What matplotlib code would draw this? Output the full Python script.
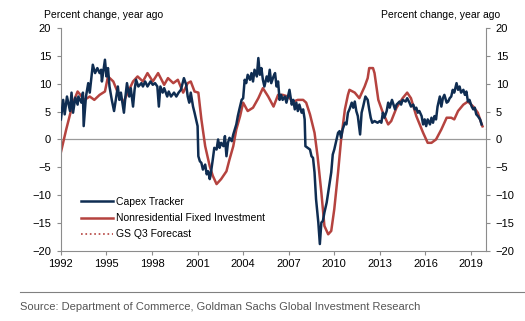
import numpy as np
import matplotlib
matplotlib.use('Agg')
import matplotlib.pyplot as plt
from matplotlib.lines import Line2D

plt.rcParams['font.family'] = ['Liberation Sans', 'DejaVu Sans']

# Capex Tracker (monthly-ish)
capex_t = [1992.0, 1992.15, 1992.25, 1992.4, 1992.6, 1992.7, 1992.8, 1992.95, 1993.1, 1993.15,
           1993.35, 1993.45, 1993.5, 1993.65, 1993.8, 1993.9, 1994.1, 1994.25, 1994.4, 1994.55,
           1994.65, 1994.7, 1994.9, 1995.0, 1995.1, 1995.2, 1995.35, 1995.5, 1995.65, 1995.75,
           1995.85, 1995.95, 1996.15, 1996.25, 1996.35, 1996.5, 1996.6, 1996.75, 1996.85, 1996.95,
           1997.1, 1997.3, 1997.4, 1997.55, 1997.7, 1997.9, 1998.05, 1998.2, 1998.35, 1998.45,
           1998.55, 1998.7, 1998.8, 1999.0, 1999.1, 1999.25, 1999.45, 1999.6, 1999.75, 1999.9,
           2000.1, 2000.25, 2000.35, 2000.45, 2000.55, 2000.7, 2000.8, 2000.9, 2001.0, 2001.05,
           2001.15, 2001.25, 2001.35, 2001.5, 2001.6, 2001.7, 2001.8, 2001.85, 2002.0, 2002.1,
           2002.25, 2002.35, 2002.45, 2002.55, 2002.7, 2002.8, 2002.9, 2003.0, 2003.1, 2003.25,
           2003.35, 2003.45, 2003.55, 2003.65, 2003.75, 2003.9, 2004.0, 2004.1, 2004.2, 2004.3,
           2004.45, 2004.55, 2004.65, 2004.75, 2004.9, 2005.0, 2005.1, 2005.2, 2005.3, 2005.4,
           2005.55, 2005.65, 2005.75, 2005.85, 2006.0, 2006.1, 2006.2, 2006.3, 2006.4, 2006.5,
           2006.6, 2006.75, 2006.85, 2006.95, 2007.05, 2007.2, 2007.3, 2007.4, 2007.5, 2007.6,
           2007.7, 2007.85, 2007.95, 2008.05, 2008.1, 2008.25, 2008.4, 2008.5, 2008.6, 2008.7,
           2008.8, 2008.95, 2009.05, 2009.15, 2009.25, 2009.35, 2009.5, 2009.6, 2009.7, 2009.8,
           2009.9, 2010.0, 2010.15, 2010.25, 2010.35, 2010.45, 2010.55, 2010.7, 2010.8, 2010.9,
           2011.0, 2011.15, 2011.25, 2011.35, 2011.45, 2011.55, 2011.7, 2011.8, 2011.9, 2012.05,
           2012.2, 2012.3, 2012.4, 2012.5, 2012.65, 2012.85, 2013.0, 2013.1, 2013.2, 2013.3,
           2013.45, 2013.55, 2013.65, 2013.8, 2014.0, 2014.1, 2014.3, 2014.4, 2014.5, 2014.7,
           2014.8, 2014.95, 2015.05, 2015.2, 2015.3, 2015.4, 2015.5, 2015.6, 2015.75, 2015.85,
           2015.95, 2016.05, 2016.15, 2016.3, 2016.4, 2016.5, 2016.6, 2016.7, 2016.8, 2016.95,
           2017.05, 2017.15, 2017.25, 2017.4, 2017.5, 2017.6, 2017.7, 2017.8, 2017.9, 2018.05,
           2018.15, 2018.25, 2018.35, 2018.5, 2018.6, 2018.7, 2018.8, 2018.9, 2019.05, 2019.15,
           2019.25, 2019.35, 2019.45, 2019.6, 2019.7]
capex_v = [3.6, 7.1, 4.5, 7.7, 5.1, 8.4, 4.8, 7.5, 6.25, 7.7,
           6.6, 8.4, 2.4, 7.7, 10.1, 8.4, 13.4, 11.9, 12.8, 11.9,
           12.5, 10.4, 14.3, 11.3, 12.8, 9.5, 7.1, 5.1, 7.7, 9.5,
           7.1, 8.4, 4.8, 7.7, 10.1, 7.7, 9.2, 5.9, 8.9, 10.7,
           9.5, 10.1, 9.5, 10.4, 9.5, 10.4, 9.8, 10.1, 9.5, 5.9,
           9.5, 8.4, 9.2, 7.7, 8.6, 7.7, 8.4, 7.7, 8.4, 8.9,
           11.0, 9.8, 7.7, 6.6, 8.4, 5.9, 4.8, 3.6, 2.4, -3.0,
           -3.9, -4.2, -5.4, -4.5, -6.25, -5.7, -7.1, -6.5, -3.6, -1.5,
           -1.8, 0.0, -1.5, -0.6, -1.2, 0.6, -3.0, -0.6, 0.3, -0.3,
           0.9, 1.8, 2.7, 4.2, 5.4, 7.1, 7.4, 10.7, 10.1, 11.6,
           10.7, 11.9, 10.4, 12.5, 11.3, 14.6, 11.6, 12.8, 10.7, 9.5,
           11.3, 10.4, 12.5, 10.1, 11.3, 11.9, 9.5, 10.4, 7.1, 8.0,
           7.1, 7.7, 6.6, 7.7, 8.9, 6.25, 7.1, 5.4, 6.6, 5.1,
           6.25, 4.8, 5.4, 3.6, -1.2, -1.5, -1.8, -3.0, -3.3, -5.9,
           -10.7, -14.9, -18.75, -14.9, -14.6, -13.1, -11.3, -9.5, -7.7, -5.9,
           -2.7, -1.8, 0.0, 1.2, 1.5, 0.3, 1.8, 3.0, 2.7, 4.8,
           5.4, 6.6, 5.7, 6.8, 5.1, 4.2, 0.9, 4.8, 5.9, 7.7,
           7.1, 5.4, 3.9, 3.0, 3.3, 3.0, 3.3, 3.0, 4.8, 3.9,
           5.1, 6.6, 5.7, 7.1, 5.4, 6.25, 6.8, 6.25, 7.1, 6.8,
           7.4, 6.6, 5.9, 6.25, 5.4, 5.7, 4.8, 5.1, 4.2, 2.7,
           3.6, 2.4, 3.6, 2.7, 3.9, 3.0, 4.2, 3.6, 5.9, 7.7,
           5.9, 7.4, 8.0, 6.6, 6.8, 7.4, 7.7, 8.9, 8.4, 10.1,
           8.9, 9.5, 8.4, 8.9, 8.0, 8.6, 6.8, 7.1, 5.9, 5.4,
           5.7, 4.5, 4.2, 3.6, 2.7]

# Nonresidential fixed investment (quarterly)
nfi_t = [1992.0, 1992.35, 1992.8, 1993.1, 1993.55, 1993.9, 1994.2, 1994.55, 1994.9, 1995.1,
         1995.45, 1995.75, 1996.1, 1996.4, 1996.75, 1997.05, 1997.4, 1997.7, 1998.05, 1998.4,
         1998.8, 1999.05, 1999.4, 1999.7, 2000.05, 2000.35, 2000.55, 2000.8, 2001.05, 2001.25,
         2001.5, 2001.8, 2002.0, 2002.25, 2002.55, 2002.9, 2003.1, 2003.35, 2003.55, 2003.8,
         2004.0, 2004.3, 2004.65, 2005.0, 2005.3, 2005.65, 2006.0, 2006.3, 2006.6, 2006.95,
         2007.3, 2007.6, 2007.95, 2008.15, 2008.4, 2008.7, 2008.9, 2009.15, 2009.35, 2009.6,
         2009.8, 2010.0, 2010.25, 2010.45, 2010.7, 2010.9, 2011.0, 2011.35, 2011.65, 2012.0,
         2012.2, 2012.3, 2012.55, 2012.65, 2012.9, 2013.2, 2013.55, 2013.75, 2014.1, 2014.5,
         2014.8, 2015.05, 2015.4, 2015.85, 2016.15, 2016.4, 2016.7, 2017.05, 2017.4, 2017.7,
         2017.9, 2018.15, 2018.5, 2018.8, 2019.15, 2019.45, 2019.75]
nfi_v = [-2.3, 1.8, 6.6, 8.6, 7.1, 7.7, 7.1, 8.0, 8.6, 11.3,
         10.4, 8.4, 6.6, 8.4, 10.4, 11.3, 10.4, 11.9, 10.4, 11.9,
         9.8, 11.0, 10.1, 10.7, 8.4, 10.1, 10.4, 8.6, 8.4, 3.6,
         -1.2, -4.8, -6.5, -8.0, -7.1, -5.7, -3.6, -1.2, 1.8, 4.2,
         6.6, 5.1, 5.7, 7.4, 9.2, 7.7, 5.9, 8.0, 8.0, 7.7,
         6.8, 7.1, 7.1, 6.6, 4.5, 1.2, -3.0, -9.5, -15.5, -17.0,
         -16.4, -12.5, -5.9, 0.0, 5.4, 8.0, 8.9, 8.4, 7.4, 9.5,
         11.0, 12.8, 12.8, 11.9, 7.1, 4.8, 2.7, 3.3, 5.7, 7.4,
         8.4, 7.4, 4.2, 1.2, -0.6, -0.6, 0.0, 1.8, 3.9, 3.9,
         3.6, 5.1, 6.25, 6.8, 5.9, 4.8, 2.4]

# GS Q3 forecast
fcst_t = [2019.75, 2019.95]
fcst_v = [2.4, 1.8]

year_ticks = [1992, 1995, 1998, 2001, 2004, 2007, 2010, 2013, 2016, 2019]
y_ticks = [-20, -15, -10, -5, 0, 5, 10, 15, 20]

BLUE = '#0f2d52'
RED = '#b5433f'
AXIS = '#8c8c8c'

fig = plt.figure(figsize=(5.25, 3.21), dpi=100)
ax = fig.add_axes([0.116, 0.218, 0.81, 0.695])

ax.axhline(0, color='#9a9a9a', lw=0.9, zorder=1)
ax.plot(nfi_t, nfi_v, color=RED, lw=1.8, label='Nonresidential Fixed Investment', zorder=2)
ax.plot(capex_t, capex_v, color=BLUE, lw=1.8, label='Capex Tracker', zorder=3)
ax.plot(fcst_t, fcst_v, color=RED, lw=1.2, ls=':', label='GS Q3 Forecast', zorder=4)

ax.set_xlim(1992, 2020)
ax.set_ylim(-20, 20)
ax.set_xticks(year_ticks)
ax.set_yticks(y_ticks)
ax.tick_params(axis='both', labelsize=8, color=AXIS, length=3, width=0.8, pad=3)
ax.tick_params(axis='y', right=True, labelright=True, pad=4)

for side in ['left', 'right', 'bottom']:
    ax.spines[side].set_color(AXIS)
    ax.spines[side].set_linewidth(0.8)
ax.spines['top'].set_visible(False)

handles, labels = ax.get_legend_handles_labels()
order = [1, 0, 2]
ax.legend([handles[i] for i in order], [labels[i] for i in order],
          loc='lower left', bbox_to_anchor=(0.026, 0.01), frameon=False,
          fontsize=7.5, handlelength=3.0, handletextpad=0.3, labelspacing=0.6)

fig.text(0.084, 0.952, 'Percent change, year ago', fontsize=7.5, ha='left', va='center')
fig.text(0.953, 0.952, 'Percent change, year ago', fontsize=7.5, ha='right', va='center')

fig.add_artist(Line2D([0.038, 1.0], [0.09, 0.09], color='#808080', lw=0.8))
fig.text(0.038, 0.045, 'Source: Department of Commerce, Goldman Sachs Global Investment Research',
         fontsize=8, color='#555555', ha='left', va='center')

fig.savefig('out.png', dpi=100)
